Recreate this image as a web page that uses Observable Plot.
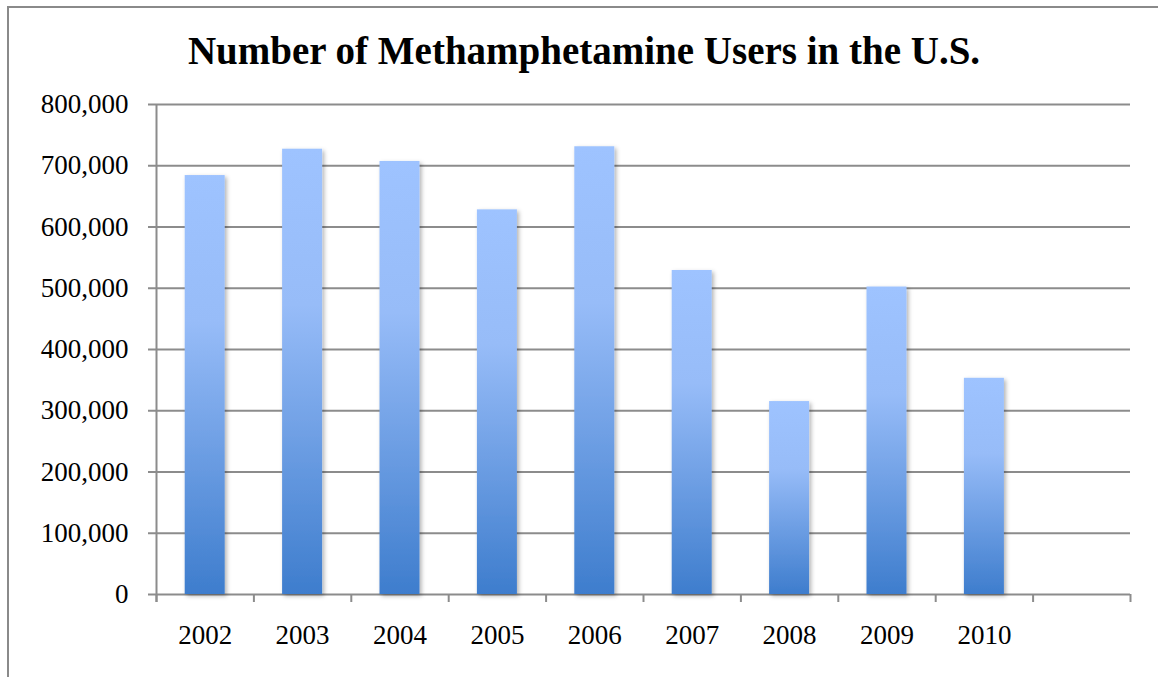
<!DOCTYPE html>
<html>
<head>
<meta charset="utf-8">
<script src="https://cdn.jsdelivr.net/npm/d3@7"></script>
<script src="https://cdn.jsdelivr.net/npm/@observablehq/plot@0.6"></script>
<style>
  html, body { margin: 0; padding: 0; background: #fff; overflow: hidden; }
  #wrap { position: relative; width: 1158px; height: 677px; overflow: hidden; }
  #frame { position: absolute; left: 7px; top: 6px; width: 1160px; height: 680px;
           border-left: 2px solid #8a8a8a; border-top: 2px solid #8a8a8a; pointer-events: none; }
  #title { height: 90px; line-height: 39px; padding-top: 31px; text-align: center; padding-left: 10px;
           font-family: "Liberation Serif", serif; font-weight: bold; font-size: 39px; color: #000;
           box-sizing: border-box; white-space: nowrap; }
  #chart svg { display: block; }
</style>
</head>
<body>
<div id="wrap">
  <div id="frame"></div>
  <div id="title">Number of Methamphetamine Users in the U.S.</div>
  <div id="chart"></div>
</div>
<script>
const categories = ["2002", "2003", "2004", "2005", "2006", "2007", "2008", "2009", "2010", ""];
const users = [684000, 727000, 707000, 628000, 731000, 529000, 315000, 502000, 353000, null];
const yTicks = [0, 100000, 200000, 300000, 400000, 500000, 600000, 700000, 800000];

const data = categories
  .map((c, i) => ({idx: i, category: c, users: users[i]}))
  .filter(d => d.users != null);

const gridColor = "#8c8c8c";
const n = categories.length;

const svg = Plot.plot({
  width: 1158,
  height: 587,
  marginLeft: 156,
  marginRight: 28,
  marginTop: 14,
  marginBottom: 83,
  x: {type: "linear", domain: [0, n], axis: null, label: null},
  y: {domain: [0, 800000], axis: null, label: null},
  style: {fontFamily: "'Liberation Serif', serif", fontSize: "27px", color: "#000", background: "transparent"},
  marks: [
    Plot.ruleY(yTicks, {x1: 0, x2: n, insetLeft: -8, stroke: gridColor, strokeWidth: 2}),
    Plot.rectY(data, {x1: "idx", x2: d => d.idx + 1, y: "users", fill: "url(#barGrad)", insetLeft: 28.7, insetRight: 28.7}),
    Plot.ruleX([0], {y1: 800000, y2: 0, insetBottom: -8, stroke: gridColor, strokeWidth: 2}),
    Plot.axisX(d3.range(n + 1), {tickFormat: () => "", tickSize: 8, stroke: gridColor, strokeWidth: 2, label: null}),
    Plot.axisX(d3.range(n).map(i => i + 0.5), {tickFormat: d => categories[Math.floor(d)], tickSize: 0, tickPadding: 30, fontSize: 27, fill: "#000", label: null}),
    Plot.axisY(yTicks, {tickFormat: d3.format(","), tickSize: 0, tickPadding: 28, fontSize: 27, fill: "#000", label: null})
  ]
});

const defs = d3.select(svg).insert("defs", ":first-child");
const grad = defs.append("linearGradient").attr("id", "barGrad")
  .attr("x1", 0).attr("y1", 0).attr("x2", 0).attr("y2", 1);
grad.append("stop").attr("offset", "0%").attr("stop-color", "#9ec3ff");
grad.append("stop").attr("offset", "35%").attr("stop-color", "#97bcf8");
grad.append("stop").attr("offset", "100%").attr("stop-color", "#3e7dcd");
const filt = defs.append("filter").attr("id", "barShadow")
  .attr("x", "-20%").attr("y", "-5%").attr("width", "150%").attr("height", "115%");
filt.append("feDropShadow").attr("dx", 2).attr("dy", 2).attr("stdDeviation", 2)
  .attr("flood-color", "#000").attr("flood-opacity", 0.3);
d3.select(svg).selectAll("g[aria-label='rect']").attr("filter", "url(#barShadow)");

document.getElementById("chart").appendChild(svg);
</script>
</body>
</html>
